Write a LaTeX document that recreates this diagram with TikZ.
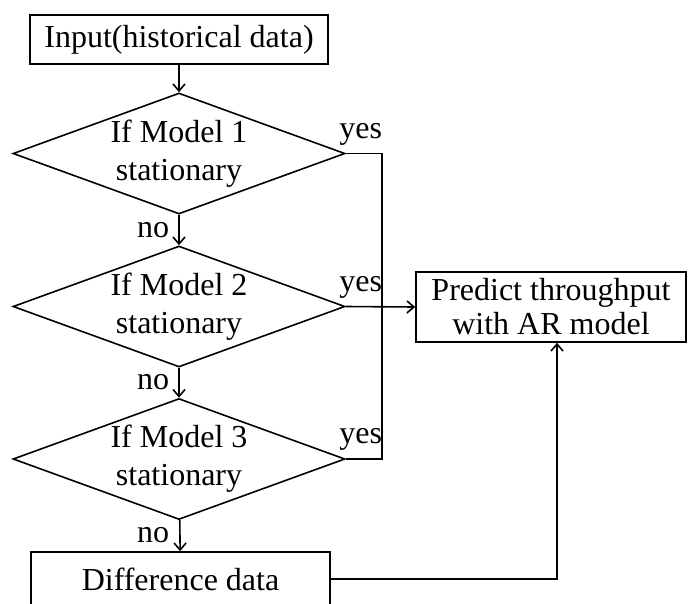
\documentclass[tikz,border=0pt]{standalone}
\usepackage{fontspec}
\setmainfont{Liberation Serif}
\usetikzlibrary{shapes.geometric,arrows.meta,calc}
\begin{document}
\begin{tikzpicture}[x=1pt,y=-1pt, line width=1.6pt,
  every node/.style={font=\fontsize{32}{38}\selectfont, inner sep=0pt},
  box/.style={draw, rectangle, align=center},
  decision/.style={draw, diamond, minimum width=332pt, minimum height=121pt, aspect=2.74},
  arr/.style={-{Straight Barb[length=7pt,width=12pt]}},
  lbl/.style={anchor=base east}]
\useasboundingbox (0,0) rectangle (688,603);

% process boxes
\node[box, minimum width=298pt, minimum height=49pt] (in) at (179,39.5) {Input(historical data)};
\node[box, minimum width=270pt, minimum height=70pt,
      font=\fontsize{32}{34}\selectfont] (pred) at (551,307) {Predict throughput\\with AR model};
\node[box, minimum width=299pt, minimum height=54pt] (diff) at (180.5,579) {Difference data};

% stationarity tests
\node[decision, label={[align=center]center:If Model 1\\stationary}] (d1) at (179,153.5) {};
\node[decision, label={[align=center]center:If Model 2\\stationary}] (d2) at (179,306.5) {};
\node[decision, label={[align=center]center:If Model 3\\stationary}] (d3) at (179,459) {};

% "no" branches
\draw[arr] (in) -- (d1);
\draw[arr] (d1) -- (d2);
\draw[arr] (d2) -- (d3);
\draw[arr] (d3) -- (diff);
\node[lbl] (n1) at ($(d1.south)+(-9,23)$) {no};
\node[lbl] (n2) at ($(d2.south)+(-9,22)$) {no};
\node[lbl] (n3) at ($(d3.south)+(-9,22)$) {no};

% "yes" branches
\draw (d1.east) -- ++(36,0) coordinate (j) |- (d3.east);
\draw[arr] (d2.east) -- (pred.west);
\node[lbl] (y1) at ($(d1.east)+(37,-15)$) {yes};
\node[lbl] (y2) at ($(d2.east)+(37,-15)$) {yes};
\node[lbl] (y3) at ($(d3.east)+(37,-16)$) {yes};

% differenced data goes to the AR model
\draw[arr] (diff.east) -| ([xshift=6pt]pred.south);
\end{tikzpicture}
\end{document}
